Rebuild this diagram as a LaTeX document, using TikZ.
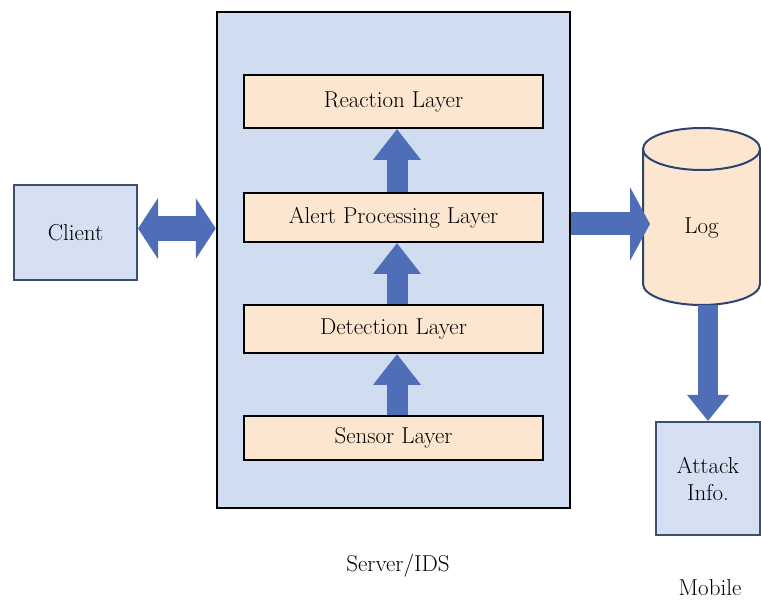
\documentclass[tikz,border=0pt]{standalone}
\usepackage{fontspec}
\usetikzlibrary{arrows.meta}
\definecolor{srvblue}{HTML}{D0DDF0}
\definecolor{boxblue}{HTML}{D5E0F3}
\definecolor{peach}{HTML}{FDE6D0}
\definecolor{arrblue}{HTML}{4E6EB8}
\definecolor{edgeblue}{HTML}{3E4E6E}
\definecolor{cylblue}{HTML}{2E4372}
\begin{document}
\begin{tikzpicture}[x=1pt,y=-1pt,line cap=butt,line join=miter,
		font=\fontsize{23}{27}\selectfont,
		layer/.style={draw=black,line width=2pt,fill=peach,minimum width=299pt,inner sep=0pt},
		side box/.style={draw=edgeblue,line width=2pt,fill=boxblue,inner sep=0pt,align=center},
		fat arrow/.style={draw=arrblue,line width=21pt,-{Triangle[width=46pt,length=31pt]}}]
	\useasboundingbox (0,0) rectangle (761,601);
	% server with its layers
	\node[draw=black,line width=2.5pt,fill=srvblue,minimum width=353pt,minimum height=496pt] (server) at (393.5,260) {};
	\node[layer,minimum height=53pt] (react) at (393.5,101.5) {Reaction Layer};
	\node[layer,minimum height=49pt] (alert) at (393.5,217.5) {Alert Processing Layer};
	\node[layer,minimum height=48pt] (detect) at (393.5,329) {Detection Layer};
	\node[layer,minimum height=44pt] (sensor) at (393.5,438) {Sensor Layer};
	\draw[fat arrow] ([xshift=3.5pt]sensor.north)--([xshift=3.5pt]detect.south);
	\draw[fat arrow] ([xshift=3.5pt]detect.north)--([xshift=3.5pt]alert.south);
	\draw[fat arrow] ([xshift=3.5pt]alert.north)--([xshift=3.5pt]react.south);
	\node (srvlabel) at (398,566) {Server/IDS};
	% client
	\node[side box,minimum width=123pt,minimum height=95pt] (client) at (75.5,233) {Client};
	\draw[draw=arrblue,line width=25pt,{Triangle[width=60pt,length=20pt]}-{Triangle[width=60pt,length=20pt]}] ([yshift=4.5pt]client.east)--([yshift=4.5pt]client.east-|server.west);
	% log
	\filldraw[draw=cylblue,line width=2pt,fill=peach] (643,149)--(643,284) arc[start angle=180,end angle=0,x radius=58.5,y radius=21]--(760,149);
	\filldraw[draw=cylblue,line width=2pt,fill=peach] (701.5,149) ellipse[x radius=58.5,y radius=21];
	\node (log) at (701.5,228) {Log};
	\coordinate (login) at (650,224);
	\coordinate (logout) at (708,305);
	\draw[draw=arrblue,line width=23pt,-{Triangle[width=73pt,length=20pt]}] (login-|server.east)--(login);
	% mobile
	\node[side box,minimum width=104pt,minimum height=113pt] (attack) at (708,478.5) {Attack\\Info.};
	\draw[draw=arrblue,line width=20pt,-{Triangle[width=40pt,length=26pt]}] (logout)--(logout|-attack.north);
	\node (mobile) at (710,588) {Mobile};
\end{tikzpicture}
\end{document}
